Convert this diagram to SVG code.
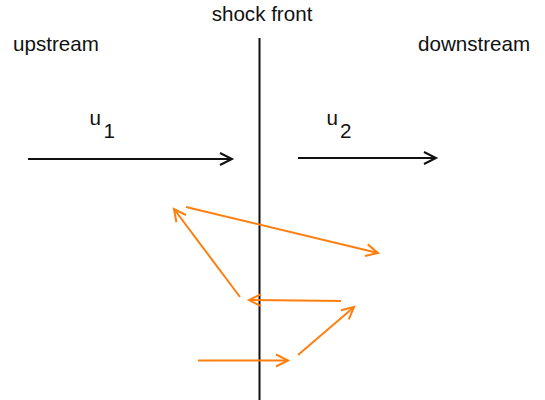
<svg xmlns="http://www.w3.org/2000/svg" width="545" height="400" viewBox="0 0 545 400">
<style>
text{font-family:"Liberation Sans",Arial,sans-serif;font-size:20.6px;fill:#111}
.k{stroke:#111;stroke-width:2;fill:none}
.o{stroke:#ff7f0e;stroke-width:2;fill:none}
</style>
<defs>
<marker id="ak" markerUnits="userSpaceOnUse" markerWidth="16" markerHeight="16" viewBox="-13 -8 16 16" refX="0" refY="0" orient="auto"><path d="M-12,-6 L0,0 L-12,6" fill="none" stroke="#111" stroke-width="2"/></marker>
<marker id="ao" markerUnits="userSpaceOnUse" markerWidth="16" markerHeight="16" viewBox="-13 -8 16 16" refX="0" refY="0" orient="auto"><path d="M-12,-6 L0,0 L-12,6" fill="none" stroke="#ff7f0e" stroke-width="2"/></marker>
</defs>
<g id="labels">
<text x="262" y="21" text-anchor="middle">shock front</text>
<text x="13" y="51">upstream</text>
<text x="418" y="51">downstream</text>
<text x="89.5" y="125">u</text><text x="103.5" y="138">1</text>
<text x="326.5" y="125">u</text><text x="340" y="138">2</text>
</g>
<g id="shock"><line class="k" x1="259.5" y1="38" x2="259.5" y2="400"/></g>
<g id="connectors">
<line class="k" x1="28" y1="159" x2="232" y2="159" marker-end="url(#ak)"/>
<line class="k" x1="298" y1="158" x2="436" y2="158" marker-end="url(#ak)"/>
<line class="o" x1="198" y1="360.5" x2="288" y2="360.5" marker-end="url(#ao)"/>
<line class="o" x1="298" y1="355" x2="354" y2="307" marker-end="url(#ao)"/>
<line class="o" x1="341" y1="301" x2="249" y2="300" marker-end="url(#ao)"/>
<line class="o" x1="240" y1="297" x2="174" y2="209" marker-end="url(#ao)"/>
<line class="o" x1="186" y1="207" x2="378" y2="253" marker-end="url(#ao)"/>
</g>
</svg>
